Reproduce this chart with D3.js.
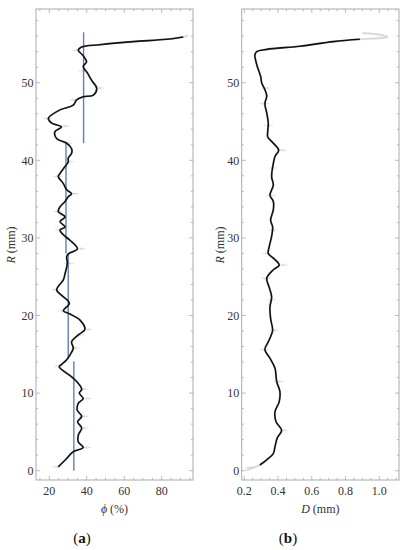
<!DOCTYPE html>
<html><head><meta charset="utf-8">
<script src="https://cdn.jsdelivr.net/npm/d3@7/dist/d3.min.js"></script>
<style>body{margin:0;background:#fff}svg{display:block}</style>
</head><body><svg id="c" width="408" height="550" font-family="'Liberation Serif', 'DejaVu Serif', serif"></svg>
<script>
// ---- data ----
// panel (a): porosity phi (%) vs R (mm)
const phiR   = [0.5,1.5,2.45,3.0,3.7,4.6,5.5,6.3,7.0,7.8,8.7,9.3,10.0,10.5,11.5,12.1,13.4,13.7,14.3,14.9,15.8,16.6,17.5,18.2,19.4,20.2,20.6,21.6,22.6,23.3,24.6,25.4,26.7,27.6,28.0,28.6,29.7,30.4,31.0,31.4,32.1,32.7,33.4,34.0,34.7,35.3,35.7,36.2,37.0,37.9,38.3,39.2,39.8,40.3,40.9,41.5,42.2,42.8,43.7,44.3,44.8,45.4,46.5,47.1,47.8,48.2,48.4,49.3,50.3,51.2,52.1,52.7,53.5,54.2,54.6,54.9,55.3,55.6,55.9];
const phiVal = [24.8,29.0,32.8,38.1,35.5,35.5,37.3,35.1,37.3,34.9,35.5,38.1,36.0,37.3,34.6,31.9,25.3,26.6,29.3,31.0,32.8,31.9,35.5,39.0,36.4,31.0,27.5,30.7,26.6,23.9,27.5,28.4,29.6,29.3,30.5,35.0,31.0,27.5,25.7,28.4,25.7,28.4,24.8,25.7,28.4,30.1,31.9,29.3,27.5,24.8,25.7,28.4,30.1,30.1,31.9,31.9,29.3,23.9,23.0,26.5,21.3,19.5,25.7,32.8,34.6,38.1,43.5,45.3,42.6,40.5,38.1,39.9,38.0,35.5,37.3,47.0,64.8,82.6,91.5];
// gray raw tail beyond the smoothed curve (panel a)
const phiTailR   = [55.9,56.1];
const phiTailVal = [91.5,94.1];
// blue mean segments (panel a)
const segPhi = [38.3,28.9,30.1,33.1];
const segRlo = [42.2,28.0,14.6,0.0];
const segRhi = [56.5,42.2,28.0,14.1];
// raw data markers (panel a): [R, phi]
const phiMarks = [[0.5,23.8],[3.0,39.8],[5.5,38.5],[7.0,38.3],[9.3,40.2],[10.5,38.5],[13.5,25.2],[15.8,33.8],[17.5,36.5],[18.2,40.5],[20.6,27.0],[23.3,23.5],[26.7,30.5],[28.6,37.0],[31.0,25.5],[33.4,24.5],[35.7,33.5],[37.9,24.5],[39.8,30.8],[42.2,30.0],[44.4,28.5],[45.4,19.2],[47.8,33.0],[49.3,47.0],[51.5,38.0],[54.2,34.5]];

// panel (b): D (mm) vs R (mm)
const dR   = [0.73,1.4,2.2,3.1,4.2,5.2,6.3,7.6,8.9,10.2,11.5,13.2,14.5,15.6,16.6,17.4,18.1,19.6,21.1,22.4,23.6,24.8,25.9,26.5,27.4,28.0,28.9,30.2,31.4,32.3,33.6,34.7,35.5,36.8,37.9,39.6,40.5,41.3,42.3,43.0,43.7,44.8,46.1,47.3,48.3,49.1,50.0,50.8,52.1,53.0,53.6,54.0,54.3,54.7,55.3,55.6];
const dVal = [0.292,0.333,0.372,0.382,0.395,0.421,0.388,0.382,0.407,0.411,0.392,0.382,0.352,0.322,0.342,0.358,0.368,0.356,0.352,0.362,0.348,0.333,0.372,0.407,0.372,0.342,0.348,0.362,0.368,0.356,0.372,0.372,0.352,0.372,0.362,0.372,0.382,0.404,0.368,0.339,0.339,0.342,0.333,0.322,0.333,0.322,0.303,0.297,0.277,0.266,0.263,0.274,0.333,0.530,0.727,0.885];
const dHeadR   = [0.1,0.73];
const dHeadVal = [0.214,0.292];
const dTailR   = [55.6,55.75,55.9,56.2,56.4];
const dTailVal = [0.885,1.0,1.05,1.0,0.90];
const dMarks = [[0.4,0.235],[5.2,0.435],[11.5,0.405],[15.6,0.318],[18.1,0.378],[22.0,0.36],[24.8,0.326],[26.5,0.43],[28.0,0.335],[31.0,0.37],[35.5,0.36],[39.0,0.37],[41.3,0.425],[44.5,0.345],[47.3,0.318],[49.3,0.335]];

// ticks
const phiTicks = [20,40,60,80];
const dTicks = [0.2,0.4,0.6,0.8,1.0];
const rTicks = [0,10,20,30,40,50];

// ---- drawing ----
const svg = d3.select("#c");
const frameCol = "#aaaaaa";
const blue = "#5E81B5";
const txtCol = "#333";

function panel(opt){
  const g = svg.append("g");
  const x = d3.scaleLinear().domain(opt.xdom).range([opt.x0,opt.x1]);
  const y = d3.scaleLinear().domain([-1.2,59.5]).range([480,9]);
  g.append("rect").attr("x",opt.x0).attr("y",9).attr("width",opt.x1-opt.x0).attr("height",471)
    .attr("fill","none").attr("stroke",frameCol).attr("stroke-width",1);
  const tk = g.append("g").attr("stroke",frameCol).attr("stroke-width",0.8);
  const xMinor = d3.range(opt.minorX0, opt.xdom[1], opt.minorXStep);
  xMinor.forEach(v=>{
    const major = opt.xticks.some(t=>Math.abs(t-v)<1e-6);
    const L = major?4:2.2;
    tk.append("line").attr("x1",x(v)).attr("x2",x(v)).attr("y1",480).attr("y2",480-L);
    tk.append("line").attr("x1",x(v)).attr("x2",x(v)).attr("y1",9).attr("y2",9+L);
  });
  d3.range(0,59,2).forEach(v=>{
    const major = v%10===0;
    const L = major?4:2.2;
    tk.append("line").attr("y1",y(v)).attr("y2",y(v)).attr("x1",opt.x0).attr("x2",opt.x0+L);
    tk.append("line").attr("y1",y(v)).attr("y2",y(v)).attr("x1",opt.x1).attr("x2",opt.x1-L);
  });
  opt.xticks.forEach(v=>{
    g.append("text").attr("x",x(v)).attr("y",495).attr("text-anchor","middle").attr("fill",txtCol)
      .attr("font-size",12).text(opt.fmt(v));
  });
  rTicks.forEach(v=>{
    g.append("text").attr("x",opt.x0-2.5).attr("y",y(v)).attr("dy","0.35em").attr("text-anchor","end").attr("fill",txtCol)
      .attr("font-size",12).text(v);
  });
  const xt = g.append("text").attr("x",(opt.x0+opt.x1)/2).attr("y",513).attr("text-anchor","middle").attr("font-size",12).attr("fill",txtCol);
  xt.append("tspan").attr("font-style","italic").text(opt.xvar);
  xt.append("tspan").text(opt.xunit);
  const yt = g.append("text").attr("transform",`translate(${opt.ytx},245) rotate(-90)`).attr("text-anchor","middle").attr("font-size",12).attr("fill",txtCol);
  yt.append("tspan").attr("font-style","italic").text("R");
  yt.append("tspan").text(" (mm)");
  const pl = g.append("text").attr("x",opt.lx).attr("y",543).attr("text-anchor","middle").attr("font-size",15).attr("fill","#111");
  pl.append("tspan").text("(");
  pl.append("tspan").attr("font-weight","bold").text(opt.letter);
  pl.append("tspan").text(")");
  return {g,x,y};
}

function curves(p, R, V, headR, headV, tailR, tailV, marks){
  const line = d3.line().x(d=>p.x(d[1])).y(d=>p.y(d[0])).curve(d3.curveCatmullRom.alpha(0.5));
  const pts = R.map((r,i)=>[r,V[i]]);
  const raw = (headR?headR.map((r,i)=>[r,headV[i]]).slice(0,-1):[]).concat(pts).concat(tailR.map((r,i)=>[r,tailV[i]]).slice(1));
  p.g.append("path").attr("d",line(raw)).attr("fill","none").attr("stroke","#e2e2e2").attr("stroke-width",2.2);
  p.g.append("path").attr("d",line(raw)).attr("fill","none").attr("stroke","#cfcfcf").attr("stroke-width",0.6);
  const mg = p.g.append("g").attr("stroke","#d2d2d2").attr("stroke-width",0.7);
  marks.forEach(m=>{
    const cx=p.x(m[1]), cy=p.y(m[0]);
    mg.append("line").attr("x1",cx-4.5).attr("x2",cx+4.5).attr("y1",cy).attr("y2",cy);
    mg.append("line").attr("x1",cx-1.5).attr("x2",cx+1.5).attr("y1",cy-1.5).attr("y2",cy+1.5);
    mg.append("line").attr("x1",cx-1.5).attr("x2",cx+1.5).attr("y1",cy+1.5).attr("y2",cy-1.5);
  });
  return {line,pts};
}

const pa = panel({x0:36,x1:193,xdom:[12.9,96.7],xticks:phiTicks,minorX0:15,minorXStep:5,
  fmt:d=>d,xvar:"ϕ",xunit:" (%)",ytx:15,lx:82,letter:"a"});
const ca = curves(pa, phiR, phiVal, null, null, phiTailR, phiTailVal, phiMarks);
segPhi.forEach((v,i)=>{
  pa.g.append("line").attr("x1",pa.x(v)).attr("x2",pa.x(v)).attr("y1",pa.y(segRlo[i])).attr("y2",pa.y(segRhi[i]))
    .attr("stroke",blue).attr("stroke-width",1.4);
});
pa.g.append("path").attr("d",ca.line(ca.pts)).attr("fill","none").attr("stroke","#111").attr("stroke-width",1.6);

const pb = panel({x0:241.7,x1:399,xdom:[0.1846,1.117],xticks:dTicks,minorX0:0.2,minorXStep:0.05,
  fmt:d3.format(".1f"),xvar:"D",xunit:" (mm)",ytx:224,lx:288,letter:"b"});
const cb = curves(pb, dR, dVal, dHeadR, dHeadVal, dTailR, dTailVal, dMarks);
pb.g.append("path").attr("d",cb.line(cb.pts)).attr("fill","none").attr("stroke","#111").attr("stroke-width",1.6);
</script></body></html>
